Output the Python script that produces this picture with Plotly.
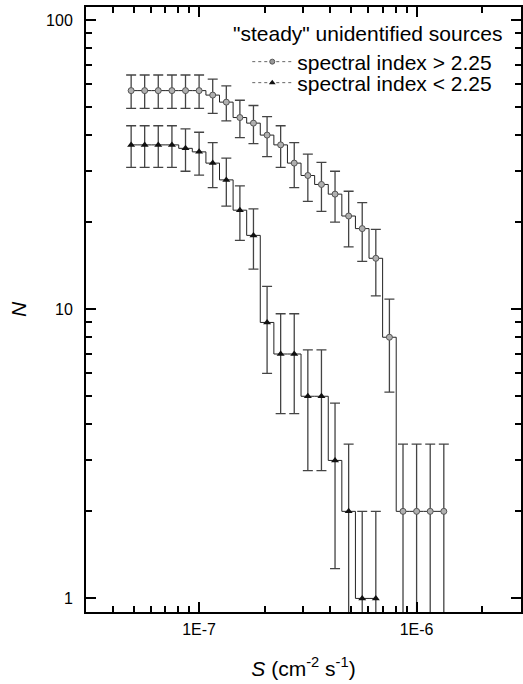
import numpy as np
import plotly.graph_objects as go

# ---- data ----
s_hi = [4.87e-8, 5.62e-8, 6.49e-8, 7.50e-8, 8.66e-8, 1.00e-7, 1.155e-7, 1.334e-7,
        1.540e-7, 1.778e-7, 2.054e-7, 2.371e-7, 2.738e-7, 3.162e-7, 3.652e-7,
        4.217e-7, 4.870e-7, 5.623e-7, 6.494e-7, 7.499e-7, 8.660e-7, 1.000e-6,
        1.155e-6, 1.334e-6]
n_hi = [57, 57, 57, 57, 57, 57, 55, 52, 46, 44, 40, 37, 32, 29, 27, 25, 21, 19,
        15, 8, 2, 2, 2, 2]

s_lo = [4.87e-8, 5.62e-8, 6.49e-8, 7.50e-8, 8.66e-8, 1.00e-7, 1.155e-7, 1.334e-7,
        1.540e-7, 1.778e-7, 2.054e-7, 2.371e-7, 2.738e-7, 3.162e-7, 3.652e-7,
        4.217e-7, 4.870e-7, 5.623e-7, 6.494e-7]
n_lo = [37, 37, 37, 37, 36, 35, 32, 28, 22, 18, 9, 7, 7, 5, 5, 3, 2, 1, 1]

x_major = [1e-7, 1e-6]
x_major_text = ["1E-7", "1E-6"]
x_minor = [4e-8, 5e-8, 6e-8, 7e-8, 8e-8, 9e-8, 2e-7, 3e-7, 4e-7, 5e-7, 6e-7,
           7e-7, 8e-7, 9e-7, 2e-6, 3e-6]
y_major = [1, 10, 100]
y_major_text = ["1", "10", "100"]
y_minor = [2, 3, 4, 5, 6, 7, 8, 9, 20, 30, 40, 50, 60, 70, 80, 90]

legend_title = '"steady" unidentified sources'
name_hi = "spectral index > 2.25"
name_lo = "spectral index < 2.25"

# ---- layout geometry (pixels) ----
W, H = 523, 684
ML, MR, MT, MB = 86, 0, 7, 72
FONT = "Liberation Sans, Arial, Helvetica, sans-serif"

def px2paper(xp, yp):
    return (xp - ML) / (W - ML - MR), (H - MB - yp) / (H - MT - MB)

err_hi = np.sqrt(n_hi)
err_lo = np.sqrt(n_lo)

fig = go.Figure()
fig.add_trace(go.Scatter(
    x=s_hi, y=n_hi, mode="lines+markers", line=dict(shape="hvh", color="#222", width=1),
    marker=dict(symbol="circle", size=6, color="#b0b0b0", line=dict(color="#555", width=1)),
    error_y=dict(type="data", array=err_hi, color="#444", thickness=1.3, width=5),
    showlegend=False))
fig.add_trace(go.Scatter(
    x=s_lo, y=n_lo, mode="lines+markers", line=dict(shape="hvh", color="#222", width=1),
    marker=dict(symbol="triangle-up", size=7, color="#111"),
    error_y=dict(type="data", array=err_lo, color="#444", thickness=1.3, width=5),
    showlegend=False))
# legend entries (dotted samples as in the reference legend)
fig.add_trace(go.Scatter(
    x=[None], y=[None], mode="lines+markers", name=name_hi, legend="legend",
    line=dict(color="#666", width=1, dash="dot"),
    marker=dict(symbol="circle", size=5, color="#999", line=dict(color="#555", width=1))))
fig.add_trace(go.Scatter(
    x=[None], y=[None], mode="lines+markers", name=name_lo, legend="legend2",
    line=dict(color="#666", width=1, dash="dot"),
    marker=dict(symbol="triangle-up", size=6, color="#111")))

l1x, l1y = px2paper(248, 62)
l2x, l2y = px2paper(248, 83)
tx, ty = px2paper(506, 33)

axis_common = dict(
    type="log", showgrid=False, zeroline=False, showline=True, linecolor="black",
    linewidth=2, mirror="allticks", ticks="inside", ticklen=10, tickwidth=2,
    tickcolor="black", tickfont=dict(family=FONT, size=16, color="black"),
)

leg_common = dict(xanchor="left", yanchor="middle", bgcolor="rgba(0,0,0,0)",
                  font=dict(family=FONT, size=21), itemwidth=40)

fig.update_layout(
    width=W, height=H, margin=dict(l=ML, r=MR, t=MT, b=MB),
    paper_bgcolor="white", plot_bgcolor="white",
    font=dict(family=FONT, color="black"),
    xaxis=dict(axis_common, range=[-7.52, -5.52], tickmode="array",
               tickvals=x_major, ticktext=x_major_text, ticklabelstandoff=2,
               minor=dict(tickmode="array", tickvals=x_minor, ticks="inside",
                          ticklen=6, tickwidth=1.5, tickcolor="black"),
               title=dict(text="<i>S</i> (cm<sup>-2</sup> s<sup>-1</sup>)",
                          font=dict(family=FONT, size=21), standoff=24)),
    yaxis=dict(axis_common, range=[-0.047, 2.045], tickmode="array",
               tickvals=y_major, ticktext=y_major_text, ticklabelstandoff=8,
               minor=dict(tickmode="array", tickvals=y_minor, ticks="inside",
                          ticklen=6, tickwidth=1.5, tickcolor="black"),
               title=dict(text="<i>N</i>", font=dict(family=FONT, size=21),
                          standoff=14)),
    legend=dict(leg_common, x=l1x, y=l1y),
    legend2=dict(leg_common, x=l2x, y=l2y),
    annotations=[dict(text=legend_title, x=tx, y=ty, xref="paper", yref="paper",
                      xanchor="right", yanchor="middle", showarrow=False,
                      font=dict(family=FONT, size=21, color="black"))],
)

fig.write_html("out.html", config={"displayModeBar": False},
               post_script="document.body.style.margin='0';")
